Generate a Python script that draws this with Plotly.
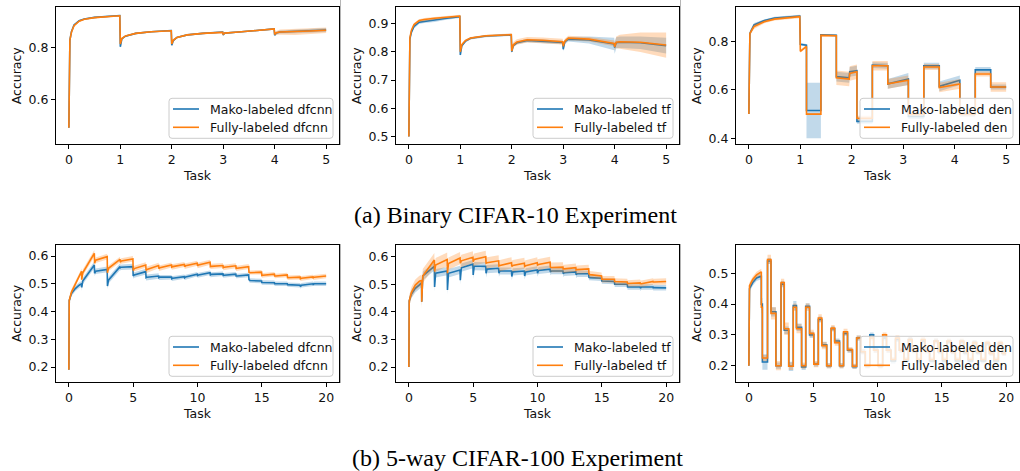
import plotly.graph_objects as go

BLUE = "#1f77b4"
ORANGE = "#ff7f0e"
BLUE_BAND = "rgba(31,119,180,0.28)"
ORANGE_BAND = "rgba(255,127,14,0.28)"

# ---------------- (a) Binary CIFAR-10 : dfcnn ----------------
X_A1 = [0, 0.02, 0.05, 0.1, 0.2, 0.3, 0.5, 0.7, 0.99, 1.0, 1.03, 1.1, 1.3, 1.6, 1.99, 2.0,
        2.03, 2.1, 2.3, 2.6, 2.99, 3.0, 3.03, 3.3, 3.6, 3.99, 4.0, 4.03, 4.1, 4.4, 4.7, 5.0]
MAKO_A1 = [0.49, 0.83, 0.862, 0.888, 0.905, 0.912, 0.918, 0.921, 0.925, 0.804, 0.835, 0.845,
           0.856, 0.862, 0.867, 0.81, 0.828, 0.84, 0.85, 0.856, 0.861, 0.85, 0.857, 0.861,
           0.866, 0.873, 0.849, 0.857, 0.861, 0.863, 0.866, 0.869]
FULL_A1 = [0.49, 0.83, 0.86, 0.886, 0.903, 0.911, 0.917, 0.92, 0.924, 0.815, 0.836, 0.846,
           0.856, 0.862, 0.866, 0.815, 0.83, 0.84, 0.85, 0.856, 0.86, 0.853, 0.857, 0.861,
           0.866, 0.873, 0.852, 0.858, 0.861, 0.862, 0.865, 0.868]
SD_MAKO_A1 = [0.002, 0.004, 0.004, 0.004, 0.003, 0.003, 0.003, 0.003, 0.003, 0.004, 0.004, 0.003,
              0.003, 0.003, 0.003, 0.004, 0.004, 0.003, 0.003, 0.003, 0.003, 0.003, 0.003, 0.003,
              0.003, 0.003, 0.004, 0.005, 0.006, 0.007, 0.008, 0.008]
SD_FULL_A1 = [0.002, 0.004, 0.004, 0.004, 0.003, 0.003, 0.003, 0.003, 0.003, 0.004, 0.004, 0.003,
              0.003, 0.003, 0.003, 0.004, 0.004, 0.003, 0.003, 0.003, 0.003, 0.003, 0.003, 0.003,
              0.003, 0.003, 0.004, 0.007, 0.01, 0.012, 0.012, 0.011]

# ---------------- (a) Binary CIFAR-10 : tf ----------------
X_A2 = [0, 0.02, 0.05, 0.1, 0.2, 0.3, 0.5, 0.7, 0.99, 1.0, 1.03, 1.1, 1.2, 1.5, 1.99, 2.0,
        2.03, 2.1, 2.3, 2.6, 2.99, 3.0, 3.03, 3.1, 3.5, 3.99, 4.0, 4.03, 4.1, 4.5, 5.0]
MAKO_A2 = [0.5, 0.845, 0.87, 0.89, 0.905, 0.908, 0.912, 0.918, 0.925, 0.789, 0.822, 0.838,
           0.848, 0.856, 0.86, 0.8, 0.822, 0.832, 0.84, 0.838, 0.833, 0.809, 0.835, 0.845,
           0.842, 0.828, 0.815, 0.832, 0.834, 0.832, 0.822]
FULL_A2 = [0.5, 0.85, 0.877, 0.897, 0.911, 0.915, 0.919, 0.923, 0.927, 0.80, 0.826, 0.84,
           0.849, 0.857, 0.861, 0.803, 0.825, 0.835, 0.843, 0.841, 0.836, 0.82, 0.838, 0.849,
           0.845, 0.83, 0.818, 0.834, 0.836, 0.834, 0.824]
SD_MAKO_A2 = [0.003, 0.008, 0.008, 0.007, 0.006, 0.006, 0.006, 0.005, 0.005, 0.006, 0.005, 0.005,
              0.004, 0.004, 0.004, 0.005, 0.005, 0.005, 0.006, 0.006, 0.006, 0.008, 0.008, 0.008,
              0.012, 0.022, 0.022, 0.02, 0.02, 0.022, 0.028]
SD_FULL_A2 = [0.003, 0.006, 0.006, 0.005, 0.005, 0.005, 0.005, 0.005, 0.005, 0.006, 0.005, 0.005,
              0.004, 0.004, 0.004, 0.008, 0.01, 0.01, 0.01, 0.01, 0.01, 0.008, 0.008, 0.008,
              0.008, 0.01, 0.012, 0.02, 0.025, 0.035, 0.045]

# ---------------- (a) Binary CIFAR-10 : den ----------------
X_A3 = [0, 0.02, 0.1, 0.3, 0.5, 0.99, 1.0, 1.12, 1.12, 1.4, 1.4, 1.7, 1.7, 1.95, 1.96, 2.1, 2.1,
        2.4, 2.4, 2.7, 2.7, 3.1, 3.1, 3.4, 3.4, 3.7, 3.7, 4.1, 4.1, 4.4, 4.4, 4.7, 4.7, 5.0]
MAKO_A3 = [0.5, 0.834, 0.869, 0.887, 0.898, 0.906, 0.789, 0.785, 0.515, 0.515, 0.828, 0.826,
           0.655, 0.65, 0.675, 0.68, 0.47, 0.47, 0.703, 0.70, 0.625, 0.645, 0.49, 0.49, 0.70,
           0.70, 0.615, 0.64, 0.50, 0.50, 0.683, 0.683, 0.612, 0.612]
FULL_A3 = [0.5, 0.834, 0.862, 0.882, 0.893, 0.903, 0.76, 0.78, 0.50, 0.50, 0.826, 0.824,
           0.65, 0.645, 0.668, 0.675, 0.483, 0.483, 0.70, 0.70, 0.625, 0.64, 0.50, 0.50, 0.695,
           0.695, 0.61, 0.625, 0.50, 0.50, 0.666, 0.666, 0.612, 0.612]
SD_MAKO_A3 = [0.003, 0.01, 0.008, 0.005, 0.005, 0.005, 0.005, 0.005, 0.115, 0.115, 0.004, 0.004,
              0.02, 0.02, 0.02, 0.02, 0.01, 0.01, 0.012, 0.012, 0.02, 0.025, 0.01, 0.01, 0.012,
              0.012, 0.02, 0.02, 0.01, 0.01, 0.012, 0.012, 0.01, 0.01]
SD_FULL_A3 = [0.003, 0.01, 0.01, 0.006, 0.006, 0.006, 0.006, 0.006, 0.003, 0.003, 0.004, 0.004,
              0.03, 0.03, 0.03, 0.03, 0.01, 0.01, 0.02, 0.02, 0.02, 0.02, 0.01, 0.01, 0.012,
              0.012, 0.02, 0.02, 0.01, 0.01, 0.01, 0.01, 0.02, 0.02]

# ---------------- (b) 5-way CIFAR-100 : dfcnn / tf (shared task grid) ----------------
X_B = [0, 0.03, 0.2, 0.5, 0.8, 0.99,
       1.0, 1.08, 1.98, 2.0, 2.08, 2.98, 3.0, 3.08, 3.98, 4.0, 4.08, 4.98, 5.0, 5.08, 5.98,
       6.0, 6.08, 6.98, 7.0, 7.08, 7.98, 8.0, 8.08, 8.98, 9.0, 9.08, 9.98, 10.0, 10.08, 10.98,
       11.0, 11.08, 11.98, 12.0, 12.08, 12.98, 13.0, 13.08, 13.98, 14.0, 14.08, 14.98,
       15.0, 15.08, 15.98, 16.0, 16.08, 16.98, 17.0, 17.08, 17.98, 18.0, 18.08, 18.98,
       19.0, 19.08, 20.0]
MAKO_B1 = [0.19, 0.44, 0.465, 0.483, 0.495, 0.50,
           0.487, 0.51, 0.568, 0.538, 0.545, 0.552, 0.492, 0.513, 0.562, 0.558, 0.56, 0.562,
           0.528, 0.532, 0.544, 0.522, 0.524, 0.528, 0.522, 0.524, 0.524, 0.518, 0.52, 0.526,
           0.522, 0.525, 0.535, 0.53, 0.532, 0.54, 0.532, 0.534, 0.536, 0.53, 0.531, 0.535,
           0.528, 0.528, 0.532, 0.515, 0.512, 0.51, 0.505, 0.505, 0.504, 0.50, 0.50, 0.50,
           0.497, 0.497, 0.495, 0.49, 0.495, 0.50, 0.498, 0.50, 0.50]
FULL_B1 = [0.19, 0.44, 0.47, 0.50, 0.53, 0.545,
           0.515, 0.54, 0.61, 0.574, 0.585, 0.598, 0.54, 0.556, 0.588, 0.578, 0.582, 0.59,
           0.548, 0.555, 0.568, 0.548, 0.552, 0.566, 0.555, 0.558, 0.568, 0.56, 0.562, 0.57,
           0.562, 0.565, 0.574, 0.565, 0.568, 0.578, 0.562, 0.563, 0.566, 0.558, 0.56, 0.565,
           0.555, 0.556, 0.562, 0.542, 0.54, 0.542, 0.53, 0.531, 0.535, 0.528, 0.528, 0.532,
           0.522, 0.522, 0.524, 0.518, 0.52, 0.525, 0.522, 0.524, 0.528]
SD_MAKO_B1_TASK = [0.01, 0.012, 0.01, 0.012, 0.01, 0.01, 0.01, 0.008, 0.008, 0.008,
                   0.008, 0.008, 0.008, 0.008, 0.008, 0.008, 0.008, 0.008, 0.008, 0.008]
SD_FULL_B1_TASK = [0.01, 0.012, 0.01, 0.01, 0.01, 0.01, 0.01, 0.009, 0.009, 0.009,
                   0.009, 0.009, 0.009, 0.009, 0.008, 0.008, 0.008, 0.008, 0.008, 0.008]

MAKO_B2 = [0.2, 0.44, 0.465, 0.485, 0.497, 0.505,
           0.437, 0.53, 0.565, 0.49, 0.54, 0.548, 0.479, 0.54, 0.552, 0.515, 0.56, 0.573,
           0.534, 0.566, 0.565, 0.54, 0.555, 0.558, 0.54, 0.548, 0.548, 0.528, 0.545, 0.548,
           0.53, 0.545, 0.552, 0.54, 0.55, 0.555, 0.545, 0.548, 0.548, 0.538, 0.542, 0.545,
           0.535, 0.538, 0.538, 0.525, 0.524, 0.522, 0.512, 0.512, 0.51, 0.50, 0.50, 0.50,
           0.49, 0.49, 0.49, 0.486, 0.49, 0.49, 0.487, 0.488, 0.487]
FULL_B2 = [0.2, 0.44, 0.47, 0.497, 0.51, 0.515,
           0.437, 0.53, 0.588, 0.546, 0.57, 0.59, 0.54, 0.575, 0.595, 0.576, 0.585, 0.598,
           0.582, 0.59, 0.60, 0.576, 0.578, 0.585, 0.566, 0.568, 0.578, 0.565, 0.568, 0.576,
           0.565, 0.567, 0.578, 0.57, 0.572, 0.58, 0.562, 0.561, 0.562, 0.555, 0.556, 0.56,
           0.552, 0.553, 0.556, 0.538, 0.535, 0.53, 0.518, 0.518, 0.518, 0.51, 0.51, 0.508,
           0.503, 0.503, 0.505, 0.502, 0.502, 0.51, 0.508, 0.508, 0.51]
SD_MAKO_B2_TASK = [0.015, 0.015, 0.015, 0.015, 0.015, 0.015, 0.015, 0.013, 0.013, 0.013,
                   0.013, 0.012, 0.012, 0.012, 0.01, 0.01, 0.01, 0.01, 0.01, 0.01]
SD_FULL_B2_TASK = [0.02, 0.025, 0.025, 0.022, 0.022, 0.022, 0.02, 0.02, 0.02, 0.02,
                   0.02, 0.018, 0.015, 0.015, 0.013, 0.012, 0.012, 0.012, 0.012, 0.012]

# ---------------- (b) 5-way CIFAR-100 : den (piecewise phases) ----------------
X_B3_RAMP = [0, 0.05, 0.3, 0.6, 0.9, 0.97]
MAKO_B3_RAMP = [0.2, 0.45, 0.47, 0.485, 0.49, 0.49]
FULL_B3_RAMP = [0.2, 0.46, 0.48, 0.495, 0.503, 0.505]
BREAKS_B3 = [0.97, 1.05, 1.45, 1.72, 2.1, 2.5, 2.75, 3.1, 3.45, 3.7, 4.1, 4.42, 4.72,
             5.05, 5.4, 5.67, 6.05, 6.4, 6.67, 7.05, 7.36, 7.67, 8.05, 8.38, 8.7,
             9.05, 9.4, 9.7, 10.05, 10.4, 10.7, 11.05, 11.4, 11.7, 12.05, 12.4, 12.7,
             13.05, 13.4, 13.7, 14.05, 14.4, 14.7, 15.05, 15.4, 15.7, 16.05, 16.4, 16.7,
             17.05, 17.4, 17.7, 18.05, 18.4, 18.7, 19.05, 19.4, 19.7, 20.0]
MAKO_B3_LEVELS = [0.40,
                  0.212, 0.54, 0.375, 0.20, 0.465, 0.315, 0.198, 0.395, 0.325,
                  0.196, 0.393, 0.30, 0.205, 0.35, 0.268, 0.20, 0.32, 0.28,
                  0.20, 0.305, 0.25, 0.197, 0.29, 0.245, 0.20, 0.30, 0.25,
                  0.20, 0.29, 0.25, 0.215, 0.285, 0.25, 0.215, 0.285, 0.248,
                  0.215, 0.28, 0.248, 0.215, 0.28, 0.245, 0.215, 0.278, 0.245,
                  0.215, 0.278, 0.242, 0.215, 0.275, 0.242, 0.215, 0.272, 0.24,
                  0.215, 0.272, 0.24]
FULL_B3_LEVELS = [0.39,
                  0.225, 0.545, 0.37, 0.20, 0.47, 0.32, 0.198, 0.39, 0.32,
                  0.20, 0.39, 0.305, 0.205, 0.355, 0.265, 0.20, 0.322, 0.275,
                  0.20, 0.31, 0.252, 0.198, 0.29, 0.245, 0.20, 0.29, 0.25,
                  0.20, 0.30, 0.25, 0.22, 0.29, 0.25, 0.22, 0.285, 0.25,
                  0.22, 0.285, 0.248, 0.22, 0.28, 0.248, 0.22, 0.28, 0.245,
                  0.22, 0.28, 0.245, 0.22, 0.275, 0.245, 0.22, 0.275, 0.24,
                  0.22, 0.275, 0.24]
SD_MAKO_B3 = [0.02,
              0.025, 0.01, 0.015, 0.01, 0.01, 0.012, 0.015, 0.015, 0.012,
              0.01, 0.01, 0.01, 0.008, 0.01, 0.01, 0.008, 0.008, 0.008,
              0.008, 0.008, 0.008, 0.008, 0.008, 0.008, 0.008, 0.008, 0.008,
              0.008, 0.008, 0.008, 0.008, 0.008, 0.008, 0.008, 0.008, 0.008,
              0.008, 0.008, 0.008, 0.008, 0.008, 0.008, 0.008, 0.008, 0.008,
              0.008, 0.008, 0.008, 0.008, 0.008, 0.008, 0.008, 0.008, 0.008,
              0.008, 0.008, 0.008]
SD_FULL_B3 = [0.02,
              0.01, 0.015, 0.02, 0.015, 0.012, 0.02, 0.012, 0.012, 0.015,
              0.01, 0.012, 0.012, 0.01, 0.012, 0.012, 0.008, 0.01, 0.01,
              0.008, 0.01, 0.008, 0.008, 0.008, 0.008, 0.008, 0.008, 0.008,
              0.008, 0.008, 0.008, 0.008, 0.008, 0.008, 0.008, 0.008, 0.008,
              0.008, 0.008, 0.008, 0.008, 0.008, 0.008, 0.008, 0.008, 0.008,
              0.008, 0.008, 0.008, 0.008, 0.008, 0.008, 0.008, 0.008, 0.008,
              0.008, 0.008, 0.008]

LABELS = ["dfcnn", "tf", "den"]
SERIES_NAMES = ["Mako-labeled", "Fully-labeled"]
CAPTIONS = ["(a) Binary CIFAR-10 Experiment", "(b) 5-way CIFAR-100 Experiment"]
TICKS_X_TOP = [0, 1, 2, 3, 4, 5]
TICKS_X_BOT = [0, 5, 10, 15, 20]
TICKS_Y = [[0.6, 0.8], [0.5, 0.6, 0.7, 0.8, 0.9], [0.4, 0.6, 0.8],
           [0.2, 0.3, 0.4, 0.5, 0.6], [0.2, 0.3, 0.4, 0.5, 0.6], [0.2, 0.3, 0.4, 0.5]]
Y_RANGES = [[0.426, 0.957], [0.472, 0.958], [0.375, 0.942],
            [0.145, 0.641], [0.1445, 0.6435], [0.146, 0.593]]


# ---------- helpers that assemble plotted series from the data above ----------
def task_sd(xs, sd_task):
    return [sd_task[min(int(x), len(sd_task) - 1)] for x in xs]


def steps(ramp_x, ramp_y, breaks, levels, ramp_sd, sds):
    xs, ys, ss = list(ramp_x), list(ramp_y), [ramp_sd] * len(ramp_x)
    for i, lv in enumerate(levels):
        xs += [breaks[i], breaks[i + 1]]
        ys += [lv, lv]
        ss += [sds[i], sds[i]]
    return xs, ys, ss


b3m = steps(X_B3_RAMP, MAKO_B3_RAMP, BREAKS_B3, MAKO_B3_LEVELS, 0.01, SD_MAKO_B3)
b3f = steps(X_B3_RAMP, FULL_B3_RAMP, BREAKS_B3, FULL_B3_LEVELS, 0.01, SD_FULL_B3)

PANELS = [
    (X_A1, MAKO_A1, SD_MAKO_A1, X_A1, FULL_A1, SD_FULL_A1),
    (X_A2, MAKO_A2, SD_MAKO_A2, X_A2, FULL_A2, SD_FULL_A2),
    (X_A3, MAKO_A3, SD_MAKO_A3, X_A3, FULL_A3, SD_FULL_A3),
    (X_B, MAKO_B1, task_sd(X_B, SD_MAKO_B1_TASK), X_B, FULL_B1, task_sd(X_B, SD_FULL_B1_TASK)),
    (X_B, MAKO_B2, task_sd(X_B, SD_MAKO_B2_TASK), X_B, FULL_B2, task_sd(X_B, SD_FULL_B2_TASK)),
    (b3m[0], b3m[1], b3m[2], b3f[0], b3f[1], b3f[2]),
]

# ---------- layout geometry (pixels) ----------
W, H = 1020, 471
COL_LEFT = [56, 396, 736]
BOX_W = 283
ROW_TOP = [7.3, 244.7]
ROW_BOT = [144.3, 382.3]
LEG_W = [164, 140, 153]
LEG_H = 40
FONT = "DejaVu Sans"
FS = 12.5
TXT = "#111111"


def px(x):
    return x / W


def py(y):
    return 1 - y / H


def rounded_rect(x0, y0, x1, y1, r=3):
    # pixel coords (y down) -> paper path
    a, b, c, d = px(x0), px(x1), py(y1), py(y0)  # left, right, bottom, top
    rx, ry = r / W, r / H
    return (f"M {a+rx},{d} L {b-rx},{d} Q {b},{d} {b},{d-ry} L {b},{c+ry} Q {b},{c} {b-rx},{c} "
            f"L {a+rx},{c} Q {a},{c} {a},{c+ry} L {a},{d-ry} Q {a},{d} {a+rx},{d} Z")


fig = go.Figure()

for i, (xm, ym, sm, xf, yf, sf) in enumerate(PANELS):
    n = "" if i == 0 else str(i + 1)
    xa, ya = "x" + n, "y" + n
    name = LABELS[i % 3]
    for xs, ys, ss, col, band, lab in [(xm, ym, sm, BLUE, BLUE_BAND, SERIES_NAMES[0] + " " + name),
                                       (xf, yf, sf, ORANGE, ORANGE_BAND, SERIES_NAMES[1] + " " + name)]:
        up = [y + s for y, s in zip(ys, ss)]
        lo = [y - s for y, s in zip(ys, ss)]
        fig.add_trace(go.Scatter(x=list(xs) + list(xs)[::-1], y=up + lo[::-1], fill="toself",
                                 fillcolor=band, line=dict(width=0), mode="lines",
                                 hoverinfo="skip", showlegend=False, xaxis=xa, yaxis=ya))
        fig.add_trace(go.Scatter(x=xs, y=ys, mode="lines", line=dict(color=col, width=1.6),
                                 name=lab, xaxis=xa, yaxis=ya, showlegend=False))

    r, c = divmod(i, 3)
    left, right = COL_LEFT[c], COL_LEFT[c] + BOX_W
    top, bot = ROW_TOP[r], ROW_BOT[r]
    axis_common = dict(showline=True, linecolor="black", linewidth=1, mirror=True,
                       ticks="outside", ticklen=4, tickwidth=1, tickcolor="black",
                       showgrid=False, zeroline=False,
                       tickfont=dict(family=FONT, size=FS, color=TXT))
    xr = [-0.25, 5.25] if r == 0 else [-1, 21]
    fig.layout["xaxis" + n] = dict(domain=[px(left), px(right)], anchor=ya, range=xr,
                                   tickvals=TICKS_X_TOP if r == 0 else TICKS_X_BOT,
                                   **axis_common)
    fig.layout["yaxis" + n] = dict(domain=[py(bot), py(top)], anchor=xa, range=Y_RANGES[i],
                                   tickvals=TICKS_Y[i], tickformat=".1f", **axis_common)

    # axis titles
    fig.add_annotation(text="Accuracy", x=px(left - 39.5), y=py((top + bot) / 2),
                       xref="paper", yref="paper", textangle=-90, showarrow=False,
                       xanchor="center", yanchor="middle",
                       font=dict(family=FONT, size=FS, color=TXT))
    fig.add_annotation(text="Task", x=px((left + right) / 2), y=py(bot + 31.5),
                       xref="paper", yref="paper", showarrow=False,
                       xanchor="center", yanchor="middle",
                       font=dict(family=FONT, size=FS, color=TXT))

    # legend (matplotlib-style, lower right, semi-transparent)
    lr, lb = right - 6, bot - 6
    ll, lt = lr - LEG_W[c], lb - LEG_H
    fig.add_shape(type="path", path=rounded_rect(ll, lt, lr, lb), xref="paper", yref="paper",
                  fillcolor="rgba(255,255,255,0.8)", line=dict(color="#cccccc", width=1),
                  layer="above")
    for k, (col, sname) in enumerate([(BLUE, SERIES_NAMES[0]), (ORANGE, SERIES_NAMES[1])]):
        yrow = lt + 10.7 + k * 18.3
        fig.add_shape(type="line", xref="paper", yref="paper", x0=px(ll + 4), x1=px(ll + 30),
                      y0=py(yrow), y1=py(yrow), line=dict(color=col, width=1.6), layer="above")
        fig.add_annotation(text=sname + " " + name, x=px(ll + 39), y=py(yrow), xref="paper",
                           yref="paper", showarrow=False, xanchor="left", yanchor="middle",
                           font=dict(family=FONT, size=FS, color=TXT))

for k, cap in enumerate(CAPTIONS):
    fig.add_annotation(text=cap, x=px(515 if k == 0 else 517), y=py(215 if k == 0 else 458),
                       xref="paper", yref="paper", showarrow=False,
                       xanchor="center", yanchor="middle",
                       font=dict(family="Liberation Serif", size=24, color="black"))

# thin sub-figure edge lines
for xe in (340.5, 680.5):
    for ya_, yb_ in ((0, 145), (244, 383)):
        fig.add_shape(type="line", xref="paper", yref="paper", x0=px(xe), x1=px(xe),
                      y0=py(ya_), y1=py(yb_), line=dict(color="#b5b5b5", width=1))

fig.update_layout(width=W, height=H, margin=dict(l=0, r=0, t=0, b=0),
                  paper_bgcolor="white", plot_bgcolor="white", showlegend=False)

fig.write_html("out.html")
